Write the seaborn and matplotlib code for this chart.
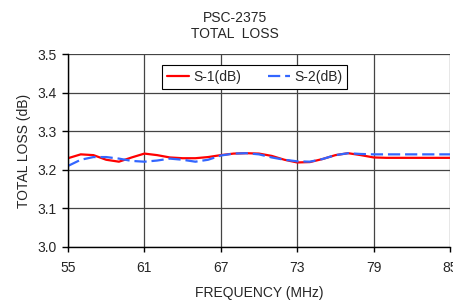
import matplotlib
matplotlib.use('Agg')
import matplotlib.pyplot as plt
import seaborn as sns
import pandas as pd
import numpy as np

freq = list(range(55, 86))
s1_db = [3.230, 3.240, 3.238, 3.226, 3.221, 3.232, 3.242, 3.238, 3.232, 3.230,
         3.230, 3.233, 3.238, 3.242, 3.243, 3.242, 3.236, 3.226, 3.219, 3.220,
         3.228, 3.238, 3.243, 3.238, 3.232, 3.231, 3.231, 3.231, 3.231, 3.231, 3.231]
s2_db = [3.210, 3.226, 3.233, 3.233, 3.229, 3.223, 3.221, 3.224, 3.229, 3.226,
         3.221, 3.226, 3.237, 3.242, 3.243, 3.240, 3.232, 3.226, 3.222, 3.221,
         3.228, 3.238, 3.243, 3.241, 3.240, 3.240, 3.240, 3.240, 3.240, 3.240, 3.240]
x_ticks = [55, 61, 67, 73, 79, 85]
y_ticks = [3.0, 3.1, 3.2, 3.3, 3.4, 3.5]

df = pd.DataFrame({'freq': freq, 'S-1(dB)': s1_db, 'S-2(dB)': s2_db})

sns.set_style('white')
plt.rcParams['font.family'] = ['Liberation Sans', 'DejaVu Sans']
plt.rcParams['font.size'] = 10

fig = plt.figure(figsize=(4.53, 3.01), dpi=100)
ax = fig.add_axes([68 / 453, 1 - 247 / 301, 382 / 453, 193 / 301])

sns.lineplot(data=df, x='freq', y='S-1(dB)', color='#ff0000', linewidth=1.6,
             label='S-1(dB)', ax=ax)
sns.lineplot(data=df, x='freq', y='S-2(dB)', color='#3366ff', linewidth=1.6,
             dashes=False, label='S-2(dB)', ax=ax)
ax.lines[1].set_dashes([5.5, 2.2])

ax.set_xlim(55, 85)
ax.set_ylim(3.0, 3.5)
ax.set_xticks(x_ticks)
ax.set_yticks(y_ticks)
ax.set_yticklabels([f'{v:.1f}' for v in y_ticks])
ax.grid(True, color='#444444', linewidth=0.9)
ax.set_axisbelow(True)
for side in ['top', 'right']:
    ax.spines[side].set_visible(False)
for side in ['left', 'bottom']:
    ax.spines[side].set_color('black')
    ax.spines[side].set_linewidth(1.0)
ax.tick_params(axis='x', direction='out', length=3.8, width=1, color='black',
               labelsize=10, pad=6, bottom=True)
ax.tick_params(axis='y', direction='out', length=4.5, width=1, color='black',
               labelsize=10, pad=3.5, left=True)
ax.set_xlabel('FREQUENCY (MHz)', fontsize=10, labelpad=8)
ax.set_ylabel('TOTAL LOSS (dB)', fontsize=10, labelpad=5)

leg = ax.legend(loc='upper left', bbox_to_anchor=(94 / 382, 1 - 11 / 193), ncol=2,
                frameon=True, fancybox=False, handlelength=1.6, handletextpad=0.3,
                columnspacing=1.9, borderpad=0.35, borderaxespad=0, fontsize=10,
                framealpha=1)
leg.get_frame().set_edgecolor('black')
leg.get_frame().set_linewidth(0.8)

fig.text(235 / 453, 1 - 18 / 301, 'PSC-2375', ha='center', va='center', fontsize=10)
fig.text(235 / 453, 1 - 34 / 301, 'TOTAL  LOSS', ha='center', va='center', fontsize=10)

fig.savefig('out.png', dpi=100)
